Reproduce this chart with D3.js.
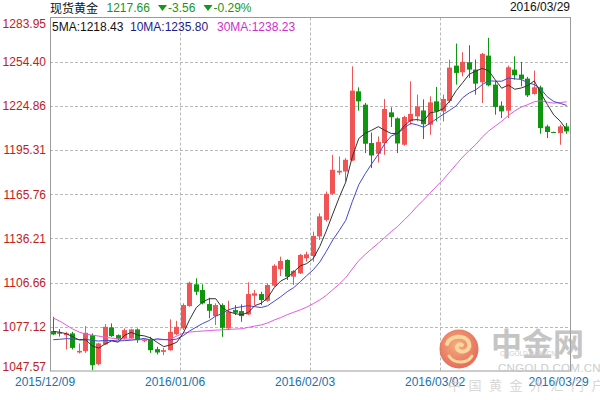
<!DOCTYPE html>
<html><head><meta charset="utf-8">
<script src="https://cdn.jsdelivr.net/npm/d3@7"></script>
<style>
body{margin:0;background:#fff;}
svg{display:block;font-family:"Liberation Sans",Arial,sans-serif;}
</style>
</head><body>
<svg width="600" height="400"></svg>
<script>
// ---------------- data ----------------
const dates = [
"2015/12/09","2015/12/10","2015/12/11","2015/12/14","2015/12/15","2015/12/16","2015/12/17","2015/12/18",
"2015/12/21","2015/12/22","2015/12/23","2015/12/24","2015/12/25","2015/12/28","2015/12/29","2015/12/30",
"2015/12/31","2016/01/01","2016/01/04","2016/01/05","2016/01/06","2016/01/07","2016/01/08","2016/01/11",
"2016/01/12","2016/01/13","2016/01/14","2016/01/15","2016/01/18","2016/01/19","2016/01/20","2016/01/21",
"2016/01/22","2016/01/25","2016/01/26","2016/01/27","2016/01/28","2016/01/29","2016/02/01","2016/02/02",
"2016/02/03","2016/02/04","2016/02/05","2016/02/08","2016/02/09","2016/02/10","2016/02/11","2016/02/12",
"2016/02/15","2016/02/16","2016/02/17","2016/02/18","2016/02/19","2016/02/22","2016/02/23","2016/02/24",
"2016/02/25","2016/02/26","2016/02/29","2016/03/01","2016/03/02","2016/03/03","2016/03/04","2016/03/07",
"2016/03/08","2016/03/09","2016/03/10","2016/03/11","2016/03/14","2016/03/15","2016/03/16","2016/03/17",
"2016/03/18","2016/03/21","2016/03/22","2016/03/23","2016/03/24","2016/03/25","2016/03/28","2016/03/29"];

const openP = [1074.24,1073.23,1071.56,1072.70,1059.97,1060.84,1071.56,1052.13,1065.33,1076.72,
1071.56,1069.35,1069.35,1075.38,1067.54,1068.68,1062.18,1060.37,1061.51,1072.23,
1076.05,1090.99,1105.53,1101.71,1092.33,1084.29,1091.66,1076.05,1088.31,1087.64,
1085.43,1097.89,1099.03,1094.54,1104.59,1115.58,1121.81,1110.62,1112.90,1122.95,
1124.49,1137.55,1148.61,1166.03,1180.30,1180.97,1188.34,1234.57,1225.66,1200.00,
1192.83,1200.00,1220.50,1216.48,1198.86,1214.47,1217.82,1221.77,1212.26,1227.87,
1221.17,1228.14,1251.79,1247.30,1254.00,1249.11,1240.60,1258.49,1239.06,1224.99,
1221.64,1249.11,1245.76,1243.08,1232.83,1237.25,1211.12,1207.40,1206.70,1211.12];

const highP = [1083.82,1075.58,1073.77,1073.77,1066.00,1077.59,1072.70,1066.40,1078.93,1079.40,
1072.03,1076.05,1075.78,1076.05,1069.08,1070.42,1063.72,1063.05,1082.08,1081.14,
1092.80,1107.27,1109.55,1105.53,1096.55,1092.80,1092.80,1094.54,1091.66,1092.13,
1106.87,1101.71,1100.57,1106.20,1118.93,1124.02,1122.28,1115.11,1125.83,1127.37,
1140.77,1152.96,1167.57,1192.16,1191.02,1189.95,1251.32,1237.25,1226.80,1207.10,
1204.42,1229.48,1223.85,1217.15,1218.29,1241.27,1232.36,1229.21,1231.22,1237.52,
1232.36,1255.81,1266.53,1260.70,1265.39,1255.81,1260.30,1270.35,1241.27,1227.87,
1251.79,1258.02,1254.27,1244.22,1248.44,1238.39,1212.26,1207.60,1212.26,1213.40];

const lowP = [1071.56,1070.55,1061.98,1061.98,1059.30,1059.70,1048.11,1051.46,1064.86,1070.42,
1068.21,1068.68,1069.08,1066.40,1066.87,1059.70,1058.63,1058.16,1061.04,1071.56,
1074.91,1090.52,1098.36,1092.13,1082.75,1078.26,1070.42,1074.91,1084.96,1080.47,
1084.96,1091.66,1091.66,1093.87,1103.92,1111.09,1108.41,1105.06,1112.43,1120.67,
1120.67,1135.21,1147.47,1165.36,1178.76,1174.27,1188.00,1221.64,1193.30,1183.25,
1187.00,1192.16,1210.72,1193.30,1198.19,1212.26,1214.47,1202.68,1205.56,1214.47,
1214.47,1226.80,1239.06,1244.62,1243.55,1232.36,1226.80,1237.92,1218.96,1216.75,
1216.75,1242.41,1237.92,1230.82,1232.36,1206.23,1203.35,1207.10,1198.86,1206.23];

const closeP = [1072.03,1072.56,1072.70,1063.05,1061.04,1073.10,1051.46,1066.00,1077.12,1070.89,
1068.68,1074.91,1075.38,1068.21,1068.21,1061.51,1059.97,1061.51,1073.77,1077.12,
1091.66,1106.60,1100.57,1092.80,1087.84,1091.66,1076.45,1087.17,1086.50,1084.29,
1099.03,1099.50,1095.01,1105.06,1117.99,1121.14,1110.62,1114.44,1125.16,1125.63,
1137.89,1150.95,1166.03,1182.11,1181.44,1188.81,1235.04,1227.87,1199.53,1191.69,
1200.67,1222.78,1217.28,1199.73,1217.42,1219.50,1224.52,1212.59,1227.20,1221.17,
1229.48,1250.45,1246.90,1254.27,1249.11,1239.73,1259.63,1238.59,1224.12,1221.17,
1250.65,1245.29,1242.88,1231.89,1237.25,1210.05,1207.37,1207.30,1211.12,1207.77];

// moving-average values for the first days (window needs earlier closes)
const ma5Head  = [1074.0,1073.5,1072.5,1070.5];
const ma10Head = [1068.5,1068.8,1069.2,1069.0,1068.6,1068.8,1068.0,1067.6,1068.0];
const ma30Head = [1083.0,1080.9,1078.3,1075.6,1073.6,1072.2,1071.6,1070.9,1070.2,1069.5,
1069.2,1068.9,1068.9,1068.5,1068.5,1068.5,1068.5,1068.5,1068.9,1070.9,
1072.9,1073.6,1074.0,1074.3,1074.6,1074.9,1075.1,1075.4,1075.6];

const yTicks = [1283.95,1254.40,1224.86,1195.31,1165.76,1136.21,1106.66,1077.12,1047.57];
const xTickDates = ["2015/12/09","2016/01/06","2016/02/03","2016/03/02","2016/03/29"];
const xGridDates = ["2016/01/06","2016/02/03","2016/03/02"];

const titleText = "现货黄金";
const lastPrice = "1217.66", change = "-3.56", changePct = "-0.29%";
const dateText = "2016/03/29";
const legendItems = [
  {label:"5MA:1218.43",  color:"#111111"},
  {label:"10MA:1235.80", color:"#1c1c8c"},
  {label:"30MA:1238.23", color:"#cc2fcc"}
];

// ---------------- chart ----------------
const svg = d3.select("svg");
const L = 50, R = 570, T = 17.5, B = 371;

const x = d3.scaleBand().domain(dates).range([L, R]).padding(0);
const y = d3.scaleLinear().domain([yTicks[yTicks.length-1], yTicks[0]]).range([B, T]);
const bw = x.bandwidth();
const cx = d => x(d) + bw/2;

// grid
const grid = svg.append("g");
grid.selectAll("line.h").data(yTicks.slice(1, -1)).join("line")
  .attr("x1", L).attr("x2", R)
  .attr("y1", d => Math.round(y(d)) + 0.5).attr("y2", d => Math.round(y(d)) + 0.5)
  .attr("stroke", "#b8b8b8").attr("stroke-dasharray", "3,2");
grid.selectAll("line.v").data(xGridDates).join("line")
  .attr("x1", d => Math.round(x(d)) + 0.5).attr("x2", d => Math.round(x(d)) + 0.5)
  .attr("y1", T).attr("y2", B)
  .attr("stroke", "#b8b8b8").attr("stroke-dasharray", "3,2");

// frame
svg.append("rect").attr("x", L + 0.5).attr("y", T).attr("width", R - L).attr("height", B - T)
  .attr("fill", "none").attr("stroke", "#9a9a9a");

// moving averages
function movingAvg(n, head) {
  return dates.map((d, i) => i < n - 1 ? head[i] : d3.mean(closeP.slice(i - n + 1, i + 1)));
}
const ma5 = movingAvg(5, ma5Head), ma10 = movingAvg(10, ma10Head), ma30 = movingAvg(30, ma30Head);
const lineGen = d3.line().x((v, i) => cx(dates[i])).y(v => y(v));

// candles
const cg = svg.append("g");
const candles = dates.map((d, i) => ({d, o: openP[i], h: highP[i], l: lowP[i], c: closeP[i]}));
const colorOf = k => k.c >= k.o ? "#f05454" : "#0e960e";
cg.selectAll("line").data(candles).join("line")
  .attr("x1", k => Math.round(cx(k.d) - 2.5) + 2.5).attr("x2", k => Math.round(cx(k.d) - 2.5) + 2.5)
  .attr("y1", k => y(k.h)).attr("y2", k => y(k.l))
  .attr("stroke", colorOf).attr("stroke-width", 1);
cg.selectAll("rect").data(candles).join("rect")
  .attr("x", k => Math.round(cx(k.d) - 2.5)).attr("width", 5)
  .attr("y", k => y(Math.max(k.o, k.c)))
  .attr("height", k => Math.max(1, Math.abs(y(k.o) - y(k.c))))
  .attr("fill", colorOf);

[[ma30, "#e05ce0"], [ma10, "#4646d2"], [ma5, "#333333"]].forEach(([arr, col]) => {
  svg.append("path").attr("d", lineGen(arr)).attr("fill", "none")
    .attr("stroke", col).attr("stroke-width", 1);
});

// y axis
const yAxis = svg.append("g").attr("transform", `translate(${L},0)`)
  .call(d3.axisLeft(y).tickValues(yTicks).tickSize(0).tickPadding(4).tickFormat(d3.format(".2f")));
yAxis.select(".domain").remove();
yAxis.selectAll("text").attr("fill", "#c0201e").attr("font-size", 12)
  .attr("font-family", '"Liberation Sans",Arial,sans-serif')
  .attr("dy", (d, i) => i === 0 ? "0.8em" : (i === yTicks.length - 1 ? "-0.05em" : "0.32em"));

// x axis
const xAxis = svg.append("g").attr("transform", `translate(0,${B})`)
  .call(d3.axisBottom(x).tickValues(xTickDates).tickSize(0).tickPadding(15));
xAxis.select(".domain").remove();
xAxis.selectAll("text").attr("fill", "#2171a8").attr("font-size", 12)
  .attr("font-family", '"Liberation Sans",Arial,sans-serif')
  .attr("text-anchor", "start").attr("x", -(bw/2 + 35)).attr("dy", 0).attr("y", 15);

// header
const hdr = svg.append("g").attr("font-size", 12);
hdr.append("text").attr("x", 50).attr("y", 12.5).attr("fill", "#111")
  .attr("font-family", '"Noto Sans CJK SC",sans-serif').attr("font-size", 12).text(titleText);
const green = "#17951b";
hdr.append("text").attr("x", 106.5).attr("y", 11.5).attr("fill", green).text(lastPrice);
const tri = cx0 => `M${cx0-4.5},5 L${cx0+4.5},5 L${cx0},11 Z`;
hdr.append("path").attr("d", tri(162.5)).attr("fill", green);
hdr.append("text").attr("x", 168).attr("y", 11.5).attr("fill", green).text(change);
hdr.append("path").attr("d", tri(208)).attr("fill", green);
hdr.append("text").attr("x", 213.5).attr("y", 11.5).attr("fill", green).text(changePct);
hdr.append("text").attr("x", 570).attr("y", 11).attr("text-anchor", "end").attr("fill", "#111").text(dateText);

// legend
const legX = [52, 130, 217];
svg.append("g").selectAll("text").data(legendItems).join("text")
  .attr("x", (d, i) => legX[i]).attr("y", 31).attr("font-size", 12)
  .attr("fill", d => d.color).text(d => d.label);

// watermark
const wm = svg.append("g").attr("opacity", 0.85);
const defs = svg.append("defs");
const rg = defs.append("radialGradient").attr("id", "lg").attr("cx", "45%").attr("cy", "40%").attr("r", "60%");
rg.append("stop").attr("offset", "0%").attr("stop-color", "#f3a06a");
rg.append("stop").attr("offset", "100%").attr("stop-color", "#e0553f");
wm.append("circle").attr("cx", 459).attr("cy", 349).attr("r", 19.5).attr("fill", "url(#lg)");
wm.append("path").attr("d", "M447,344 C450,335 466,334 469,343 C471,350 463,354 458,350 C455,347 459,343 462,345")
  .attr("fill", "none").attr("stroke", "#f7cf8c").attr("stroke-width", 4).attr("stroke-linecap", "round");
wm.append("path").attr("d", "M449,356 C455,365 468,363 472,356")
  .attr("fill", "none").attr("stroke", "#f7cf8c").attr("stroke-width", 3).attr("stroke-linecap", "round");
wm.append("text").attr("x", 491).attr("y", 355).attr("font-size", 31).attr("font-weight", "bold")
  .attr("font-family", '"Noto Sans CJK SC",sans-serif').attr("fill", "#ababab").attr("opacity", 0.8).text("中金网");
wm.append("text").attr("x", 500).attr("y", 356).attr("font-size", 6.5).attr("fill", "#c8c8c8").text("CNGOLD.COM.CN");
wm.append("text").attr("x", 498).attr("y", 372).attr("font-size", 11.5).attr("letter-spacing", 0.3)
  .attr("fill", "#c4c4c4").text("CNGOLD.COM.CN");
wm.append("text").attr("x", 448).attr("y", 390).attr("font-size", 13).attr("letter-spacing", 7.5)
  .attr("font-family", '"Noto Sans CJK SC",sans-serif').attr("fill", "#c8c8c8").attr("opacity", 0.8).text("中国黄金外汇门户");
</script>
</body></html>
